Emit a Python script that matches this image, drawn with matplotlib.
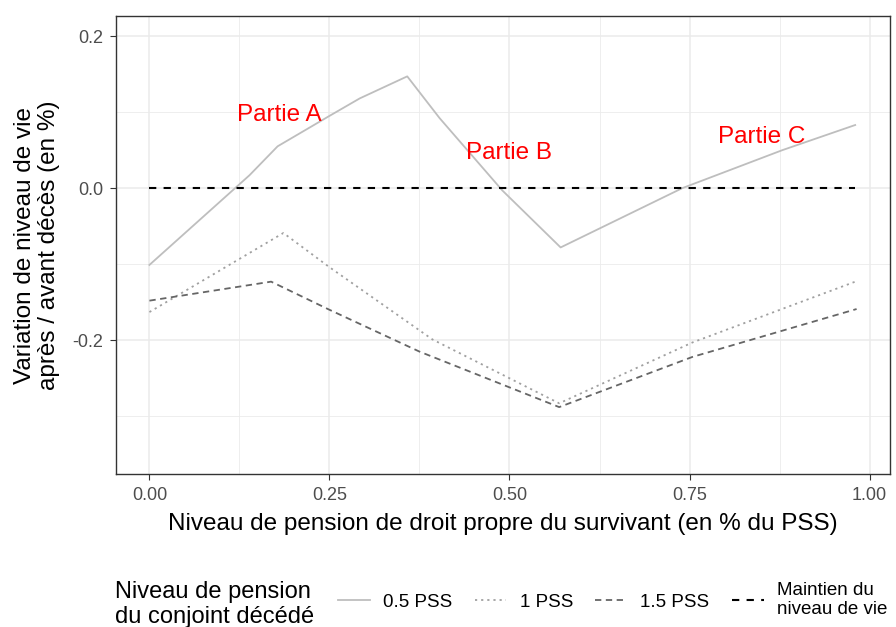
import matplotlib.pyplot as plt
from matplotlib.ticker import MultipleLocator

# données
x_05 = [0.0, 0.139, 0.178, 0.25, 0.292, 0.358, 0.403, 0.49, 0.571, 0.74, 0.879, 0.98]
y_05 = [-0.101, 0.017, 0.055, 0.095, 0.118, 0.147, 0.092, -0.003, -0.078, 0.0, 0.05, 0.083]

x_1 = [0.0, 0.186, 0.25, 0.393, 0.569, 0.754, 0.983]
y_1 = [-0.163, -0.059, -0.104, -0.199, -0.283, -0.203, -0.122]

x_15 = [0.0, 0.169, 0.25, 0.375, 0.569, 0.754, 0.982]
y_15 = [-0.148, -0.123, -0.160, -0.215, -0.288, -0.222, -0.159]

x_ref = [0.0, 0.98]
y_ref = [0.0, 0.0]

parties = ["Partie A", "Partie B", "Partie C"]
parties_x = [0.18, 0.50, 0.85]
parties_y = [0.096, 0.046, 0.067]

labels = ["0.5 PSS", "1 PSS", "1.5 PSS", "Maintien du\nniveau de vie"]

plt.rcParams['font.family'] = ['Liberation Sans', 'DejaVu Sans']

fig, ax = plt.subplots(figsize=(8.96, 6.27), dpi=100)
fig.subplots_adjust(left=0.129, right=0.993, top=0.974, bottom=0.244)

l1, = ax.plot(x_05, y_05, color='#BEBEBE', lw=1.3, solid_joinstyle='round')
l2, = ax.plot(x_1, y_1, color='#A0A0A0', lw=1.3, linestyle=(0, (1.2, 2.2)))
l3, = ax.plot(x_15, y_15, color='#666666', lw=1.3, linestyle=(0, (3.5, 2.5)))
l4, = ax.plot(x_ref, y_ref, color='black', lw=1.5, linestyle=(0, (3.5, 3.5)))

for t, xx, yy in zip(parties, parties_x, parties_y):
    ax.text(xx, yy, t, color='red', fontsize=17.5, ha='center', va='center')

ax.set_xlim(-0.047, 1.028)
ax.set_ylim(-0.376, 0.226)
ax.xaxis.set_minor_locator(MultipleLocator(0.125))
ax.yaxis.set_minor_locator(MultipleLocator(0.1))
ax.set_xticks([0, 0.25, 0.5, 0.75, 1.0])
ax.set_xticklabels(['0.00', '0.25', '0.50', '0.75', '1.00'])
ax.set_yticks([-0.2, 0.0, 0.2])
ax.set_yticklabels(['-0.2', '0.0', '0.2'])
ax.grid(which='major', color='#EBEBEB', lw=1.1)
ax.grid(which='minor', color='#EBEBEB', lw=0.6)
ax.set_axisbelow(True)
for s in ax.spines.values():
    s.set_color('#333333')
    s.set_linewidth(1.0)
ax.tick_params(which='major', length=4, color='#333333', labelcolor='#4D4D4D', labelsize=13, pad=5)
ax.tick_params(which='minor', length=0)

ax.set_xlabel("Niveau de pension de droit propre du survivant (en % du PSS)", fontsize=17.5, labelpad=7)
ax.set_ylabel("Variation de niveau de vie\naprès / avant décès (en %)", fontsize=17.5, labelpad=9,
              linespacing=1.1)

fig.text(0.128, 0.036, "Niveau de pension\ndu conjoint décédé", fontsize=17, va='center', ha='left',
         linespacing=1.15)
leg = fig.legend([l1, l2, l3, l4], labels, loc='center left', bbox_to_anchor=(0.377, 0.043),
                 ncol=4, frameon=False, handlelength=1.7, handletextpad=0.7, columnspacing=1.2,
                 fontsize=13.5, borderpad=0, borderaxespad=0)
for txt in leg.get_texts()[3:]:
    txt.set_linespacing(1.1)

fig.savefig('out.png', dpi=100)
